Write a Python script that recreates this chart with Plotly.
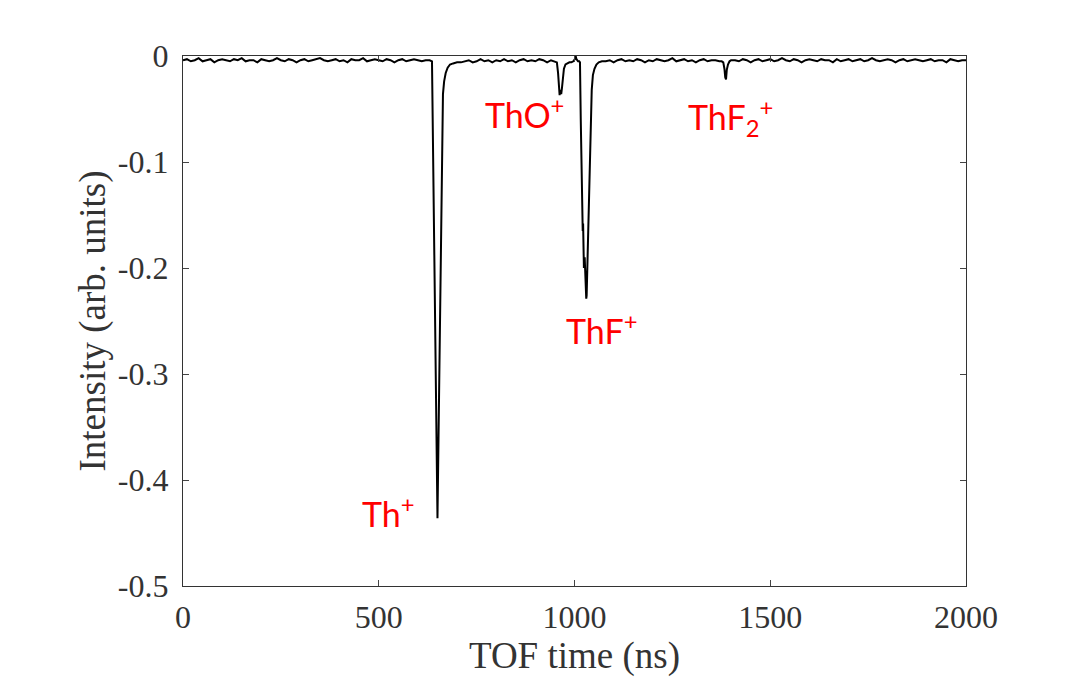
import plotly.graph_objects as go

# TOF trace (time in ns, intensity in arb. units)
t_pre = [0, 10, 20, 30, 40, 50, 60, 70, 80, 90,
         100, 110, 120, 130, 140, 150, 160, 170, 180, 190,
         200, 210, 220, 230, 240, 250, 260, 270, 280, 290,
         300, 310, 320, 330, 340, 350, 360, 370, 380, 390,
         400, 410, 420, 430, 440, 450, 460, 470, 480, 490,
         500, 510, 520, 530, 540, 550, 560, 570, 580, 590,
         600, 610, 620, 630]
i_pre = [-0.004, -0.003, -0.005, -0.004, -0.002, -0.005, -0.004, -0.003, -0.006, -0.004,
         -0.003, -0.004, -0.005, -0.003, -0.004, -0.002, -0.005, -0.004, -0.004, -0.006,
         -0.003, -0.004, -0.005, -0.004, -0.002, -0.004, -0.005, -0.003, -0.004, -0.006,
         -0.004, -0.003, -0.005, -0.004, -0.003, -0.002, -0.004, -0.005, -0.004, -0.003,
         -0.005, -0.004, -0.006, -0.003, -0.004, -0.004, -0.002, -0.005, -0.004, -0.003,
         -0.004, -0.005, -0.003, -0.004, -0.006, -0.004, -0.003, -0.005, -0.004, -0.003,
         -0.004, -0.005, -0.004, -0.004]

t_th = [636, 640, 644, 647, 650, 654, 658, 661, 664, 667, 671, 676, 682, 690, 700]
i_th = [-0.005, -0.12, -0.25, -0.345, -0.436, -0.322, -0.208, -0.12, -0.036, -0.024,
        -0.016, -0.011, -0.008, -0.007, -0.006]

t_mid1 = [710, 720, 730, 740, 750, 760, 770, 780, 790, 800,
          810, 820, 830, 840, 850, 860, 870, 880, 890, 900,
          910, 920, 930, 940, 950]
i_mid1 = [-0.006, -0.005, -0.004, -0.006, -0.005, -0.003, -0.005, -0.004, -0.006, -0.004,
          -0.005, -0.003, -0.005, -0.004, -0.006, -0.004, -0.003, -0.005, -0.004, -0.005,
          -0.003, -0.004, -0.006, -0.004, -0.005]

t_tho = [955, 958, 960, 962, 964, 966, 968, 970, 973, 977,
         982, 987, 992, 997, 1001, 1003, 1005, 1009, 1012]
i_tho = [-0.006, -0.016, -0.028, -0.037, -0.032, -0.036, -0.03, -0.02, -0.012, -0.008,
         -0.007, -0.006, -0.006, -0.005, -0.003, 0.0, -0.003, -0.005, -0.005]

t_thf = [1014, 1016, 1018, 1020, 1021, 1022, 1024, 1026, 1028, 1030, 1031,
         1033, 1035, 1037, 1039, 1041, 1044, 1047, 1051, 1056, 1062, 1070]
i_thf = [-0.006, -0.06, -0.11, -0.16, -0.165, -0.158, -0.2, -0.19, -0.215, -0.229, -0.226,
         -0.197, -0.166, -0.134, -0.103, -0.071, -0.032, -0.018, -0.012, -0.008, -0.006, -0.005]

t_mid2 = [1080, 1090, 1100, 1110, 1120, 1130, 1140, 1150, 1160, 1170,
          1180, 1190, 1200, 1210, 1220, 1230, 1240, 1250, 1260, 1270,
          1280, 1290, 1300, 1310, 1320, 1330, 1340, 1350, 1360, 1370]
i_mid2 = [-0.005, -0.004, -0.006, -0.004, -0.003, -0.005, -0.004, -0.005, -0.003, -0.004,
          -0.006, -0.004, -0.005, -0.003, -0.004, -0.005, -0.004, -0.002, -0.005, -0.004,
          -0.003, -0.005, -0.004, -0.006, -0.004, -0.003, -0.005, -0.004, -0.004, -0.005]

t_thf2 = [1376, 1380, 1383, 1385, 1387, 1389, 1392, 1396, 1400]
i_thf2 = [-0.005, -0.006, -0.012, -0.02, -0.022, -0.013, -0.008, -0.005, -0.004]

t_post = [1410, 1420, 1430, 1440, 1450, 1460, 1470, 1480, 1490, 1500,
          1510, 1520, 1530, 1540, 1550, 1560, 1570, 1580, 1590, 1600,
          1610, 1620, 1630, 1640, 1650, 1660, 1670, 1680, 1690, 1700,
          1710, 1720, 1730, 1740, 1750, 1760, 1770, 1780, 1790, 1800,
          1810, 1820, 1830, 1840, 1850, 1860, 1870, 1880, 1890, 1900,
          1910, 1920, 1930, 1940, 1950, 1960, 1970, 1980, 1990, 2000]
i_post = [-0.004, -0.005, -0.003, -0.004, -0.006, -0.004, -0.003, -0.005, -0.004, -0.003,
          -0.005, -0.004, -0.002, -0.004, -0.005, -0.003, -0.004, -0.006, -0.004, -0.003,
          -0.004, -0.005, -0.003, -0.004, -0.004, -0.006, -0.003, -0.005, -0.004, -0.003,
          -0.005, -0.004, -0.003, -0.005, -0.004, -0.002, -0.004, -0.005, -0.004, -0.003,
          -0.004, -0.006, -0.004, -0.003, -0.005, -0.004, -0.003, -0.004, -0.005, -0.004,
          -0.003, -0.005, -0.004, -0.004, -0.006, -0.003, -0.004, -0.005, -0.004, -0.004]

# peak labels
ion_labels = ["Th<sup>+</sup>", "ThO<sup>+</sup>", "ThF<sup>+</sup>", "ThF<sub>2</sub><sup>+</sup>"]
label_t = [453, 767, 972, 1286]
label_i = [-0.43, -0.054, -0.258, -0.058]

x_ticks = [0, 500, 1000, 1500, 2000]
y_ticks = [0, -0.1, -0.2, -0.3, -0.4, -0.5]
y_ticktext = ["0", "-0.1", "-0.2", "-0.3", "-0.4", "-0.5"]

time_ns = t_pre + t_th + t_mid1 + t_tho + t_thf + t_mid2 + t_thf2 + t_post
intensity = i_pre + i_th + i_mid1 + i_tho + i_thf + i_mid2 + i_thf2 + i_post

fig = go.Figure()
fig.add_trace(go.Scatter(x=time_ns, y=intensity, mode="lines",
                         line=dict(color="black", width=2), showlegend=False))

for txt, tx, ty in zip(ion_labels, label_t, label_i):
    fig.add_annotation(x=tx, y=ty, text=txt, showarrow=False,
                       xanchor="left", yanchor="middle",
                       font=dict(family="Lato", size=34, color="#ff0000"))

axis_font = dict(family="Liberation Serif", size=32, color="#333333")
title_font = dict(family="Liberation Serif", size=37, color="#333333")
fig.update_xaxes(range=[0, 2000], tickvals=x_ticks, ticks="inside", ticklen=6,
                 showline=True, linecolor="#333333", linewidth=1.3, mirror="ticks",
                 showgrid=False, zeroline=False, tickfont=axis_font, ticklabelstandoff=2,
                 title=dict(text="TOF time (ns)", font=title_font, standoff=2))
fig.update_yaxes(range=[-0.5, 0], tickvals=y_ticks, ticktext=y_ticktext, ticks="inside", ticklen=6,
                 showline=True, linecolor="#333333", linewidth=1.3, mirror="ticks",
                 showgrid=False, zeroline=False, tickfont=axis_font, ticklabelstandoff=7,
                 title=dict(text="Intensity (arb. units)", font=title_font, standoff=0))
# the page adds an 8 px body margin, so the figure is 8 px smaller and the margins shift by 8
fig.update_layout(width=1064, height=691, margin=dict(l=175, r=106, t=48, b=113),
                  paper_bgcolor="white", plot_bgcolor="white")

fig.write_html("out.html")
